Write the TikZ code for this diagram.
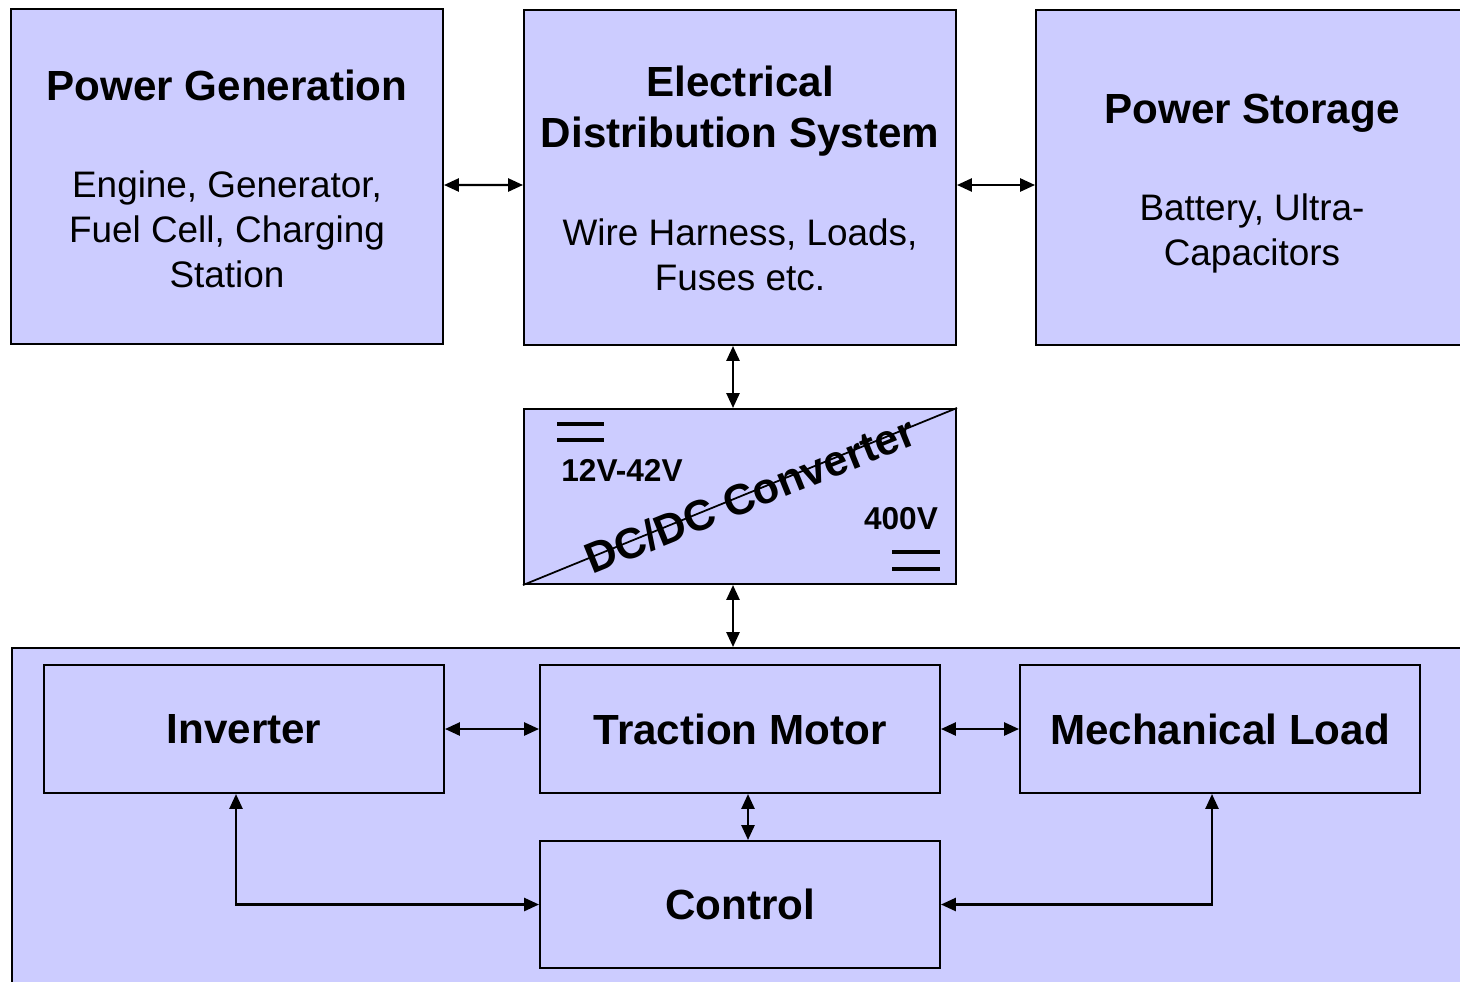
\documentclass[tikz,border=0pt]{standalone}
\usepackage{fontspec}
\setmainfont{Liberation Sans}
\usetikzlibrary{arrows.meta, positioning}

\definecolor{boxfill}{HTML}{CCCCFF}

\begin{document}
\begin{tikzpicture}[
  x=0.02cm, y=-0.02cm,
  block/.style={rectangle, draw=black, line width=1.2pt, fill=boxfill, inner sep=0pt},
  top/.style={block, minimum width=8.64cm, minimum height=6.7cm},
  unit/.style={block, minimum width=8cm, minimum height=2.56cm, font=\bfseries\fontsize{24}{29}\selectfont},
  title/.style={font=\bfseries\fontsize{24}{29}\selectfont, align=center, inner sep=0pt},
  sub/.style={font=\fontsize{21}{25.6}\selectfont, align=center, inner sep=0pt},
  volt/.style={font=\bfseries\fontsize{18}{22}\selectfont, inner sep=0pt},
  bar/.style={line width=2.8pt},
  link/.style={<->, line width=1.2pt},
  >={Triangle[length=8.5pt, width=7.5pt]}
]
\useasboundingbox (0,0) rectangle (1460,981);
\clip (0,0) rectangle (1460,981);

% upper row
\node (PG) at (227,176.5) [top] {};
\node (EDS) at (740,177.5) [top] {};
\node (PS) at (1258,177.5) [top, minimum width=8.88cm] {};

\node (PGt) at (227,85) [title] {Power Generation};
\node (PGs) at (227,229) [sub] {Engine, Generator,\\Fuel Cell, Charging\\Station};
\node (EDSt) at (740,111) [title] {Electrical\\Distribution System};
\node (EDSs) at (740,255) [sub] {Wire Harness, Loads,\\Fuses etc.};
\node (PSt) at (1252,113) [title] {Power Storage};
\node (PSs) at (1252,233) [sub] {Battery, Ultra-\\Capacitors};

% converter
\node (DCDC) at (740,496.5) [block, minimum width=8.64cm, minimum height=3.5cm] {};
\draw [line width=1pt] (DCDC.south west) -- (DCDC.north east);
\node (DCl) at (750,495) [title, font=\bfseries\fontsize{24.5}{29}\selectfont, rotate=22] {DC/DC Converter};
\node (lowV) at (622,470) [volt] {12V-42V};
\node (highV) at (901,519) [volt] {400V};
\draw [bar] (557,424) -- (604,424);
\draw [bar] (557,440) -- (604,440);
\draw [bar] (892,552) -- (940,552);
\draw [bar] (892,569) -- (940,569);

% drive train
\node (drive) at (746,824) [block, minimum width=29.36cm, minimum height=7.04cm] {};
\node (inv) at (244,729) [unit] {Inverter};
\node (motor) at (740,729) [unit] {Traction Motor};
\node (mech) at (1220,729) [unit] {Mechanical Load};
\node (ctrl) at (740,904.5) [unit, minimum height=2.54cm] {Control};

\draw [link] ([yshift=-0.17cm]PG.east) -- ([yshift=-0.15cm]EDS.west);
\draw [link] ([yshift=-0.15cm]EDS.east) -- ([yshift=-0.15cm]PS.west);
\draw [link] ([xshift=-0.14cm]EDS.south) -- ([xshift=-0.14cm]DCDC.north);
\draw [link] ([xshift=-0.14cm]DCDC.south) -- ([xshift=-0.14cm]DCDC.south |- drive.north);
\draw [link] (inv) -- (motor);
\draw [link] (motor) -- (mech);
\draw [link] ([xshift=0.16cm]motor.south) -- ([xshift=0.16cm]ctrl.north);
\draw [link] ([xshift=-0.16cm]inv.south) |- (ctrl.west);
\draw [link] ([xshift=-0.16cm]mech.south) |- (ctrl.east);

\end{tikzpicture}
\end{document}
